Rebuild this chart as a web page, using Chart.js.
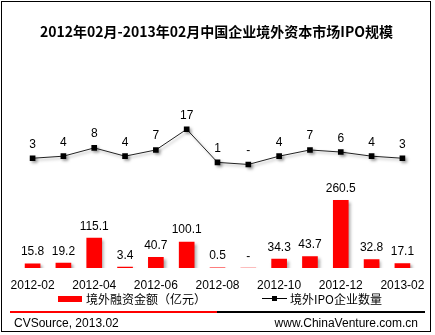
<!DOCTYPE html>
<html>
<head>
<meta charset="utf-8">
<script src="https://cdn.jsdelivr.net/npm/chart.js@4.4.1/dist/chart.umd.min.js"></script>
<style>
  html, body { margin: 0; padding: 0; background: #fff; }
  #wrap { position: relative; width: 435px; height: 335px; overflow: hidden; font-family: "Liberation Sans", Arial, sans-serif; }
  #c { position: absolute; left: 0; top: 0; }
  #frame { position: absolute; left: 1px; top: 1px; width: 428px; height: 329px; border: 1px solid #000; }
  #title { position: absolute; left: 0; width: 433px; top: 22px; text-align: center; font-family: "Noto Sans CJK SC", "Liberation Sans", sans-serif; font-weight: bold; font-size: 14px; line-height: 18px; color: #000; }
  .lg { position: absolute; font-family: "Noto Sans CJK SC", "Liberation Sans", sans-serif; font-size: 12px; line-height: 16px; top: 291px; color: #000; white-space: nowrap; }
  #sw1 { position: absolute; left: 58px; top: 296px; width: 24px; height: 6px; background: #ff0000; }
  #sw2l { position: absolute; left: 262px; top: 298px; width: 25px; height: 1px; background: #000; }
  #sw2p { position: absolute; left: 272px; top: 296px; width: 5px; height: 5px; background: #000; }
  #sepR { position: absolute; left: 10px; top: 311px; width: 207px; height: 2px; background: #ff0000; }
  #sepB { position: absolute; left: 217px; top: 311px; width: 208px; height: 2px; background: #000; }
  .ft { position: absolute; top: 315px; font-size: 12px; line-height: 16px; color: #000; white-space: nowrap; }
</style>
</head>
<body>
<div id="wrap">
  <canvas id="c" width="435" height="335"></canvas>
  <div id="frame"></div>
  <div id="title">2012年02月-2013年02月中国企业境外资本市场IPO规模</div>
  <div id="sw1"></div>
  <div class="lg" style="left:86px;">境外融资金额（亿元）</div>
  <div id="sw2l"></div><div id="sw2p"></div>
  <div class="lg" style="left:290px;">境外IPO企业数量</div>
  <div id="sepR"></div><div id="sepB"></div>
  <div class="ft" style="left:14px;">CVSource, 2013.02</div>
  <div class="ft" style="right:17px;">www.ChinaVenture.com.cn</div>
</div>
<script>
const categories = ["2012-02","2012-03","2012-04","2012-05","2012-06","2012-07","2012-08","2012-09","2012-10","2012-11","2012-12","2013-01","2013-02"];
const financingAmount = [15.8, 19.2, 115.1, 3.4, 40.7, 100.1, 0.5, 0, 34.3, 43.7, 260.5, 32.8, 17.1];
const ipoCount = [3, 4, 8, 4, 7, 17, 1, 0, 4, 7, 6, 4, 3];
const seriesNames = ["境外融资金额（亿元）", "境外IPO企业数量"];

const shadowPlugin = {
  id: 'shadow',
  beforeDatasetDraw(chart) {
    const ctx = chart.ctx;
    ctx.save();
    ctx.shadowColor = 'rgba(0,0,0,0.35)';
    ctx.shadowBlur = 3;
    ctx.shadowOffsetX = 2;
    ctx.shadowOffsetY = 2;
  },
  afterDatasetDraw(chart) {
    chart.ctx.restore();
  }
};

const labelPlugin = {
  id: 'valueLabels',
  afterDatasetsDraw(chart) {
    const ctx = chart.ctx;
    ctx.save();
    ctx.font = '12px "Liberation Sans", Arial, sans-serif';
    ctx.fillStyle = '#000';
    ctx.textAlign = 'center';
    ctx.textBaseline = 'alphabetic';
    chart.data.datasets.forEach((ds, di) => {
      const meta = chart.getDatasetMeta(di);
      meta.data.forEach((el, i) => {
        const v = ds.data[i];
        let txt;
        if (di === 0) txt = v === 0 ? '-' : v.toFixed(1);
        else txt = v === 0 ? '-' : String(v);
        const off = di === 0 ? 8.5 : 10.5;
        ctx.fillText(txt, el.x, el.y - off);
      });
    });
    ctx.restore();
  }
};

new Chart(document.getElementById('c'), {
  data: {
    labels: categories,
    datasets: [
      {
        type: 'bar',
        label: seriesNames[0],
        data: financingAmount,
        backgroundColor: '#ff0000',
        borderWidth: 0,
        barThickness: 15,
        yAxisID: 'y',
        order: 2
      },
      {
        type: 'line',
        label: seriesNames[1],
        data: ipoCount,
        borderColor: '#222',
        borderWidth: 1,
        pointStyle: 'rect',
        pointRadius: 4,
        pointBackgroundColor: '#000',
        pointBorderColor: '#000',
        pointBorderWidth: 0,
        tension: 0,
        yAxisID: 'y1',
        order: 1
      }
    ]
  },
  options: {
    responsive: false,
    animation: false,
    devicePixelRatio: 1,
    layout: { padding: { left: 15.5, right: 16.5, top: 110, bottom: 37 } },
    plugins: { legend: { display: false }, tooltip: { enabled: false }, title: { display: false } },
    scales: {
      x: {
        offset: true,
        grid: { display: false, drawTicks: false },
        border: { display: false },
        ticks: {
          autoSkip: false,
          maxRotation: 0,
          padding: 10,
          color: '#000',
          font: { family: '"Liberation Sans", Arial, sans-serif', size: 12 },
          callback: function(val, idx) { return idx % 2 === 0 ? categories[idx] : ''; }
        },
        afterFit(scale) { scale.height = 30; }
      },
      y: { display: false, min: 0, max: 608 },
      y1: { display: false, min: -50, max: 26.3 }
    }
  },
  plugins: [shadowPlugin, labelPlugin]
});
</script>
</body>
</html>
